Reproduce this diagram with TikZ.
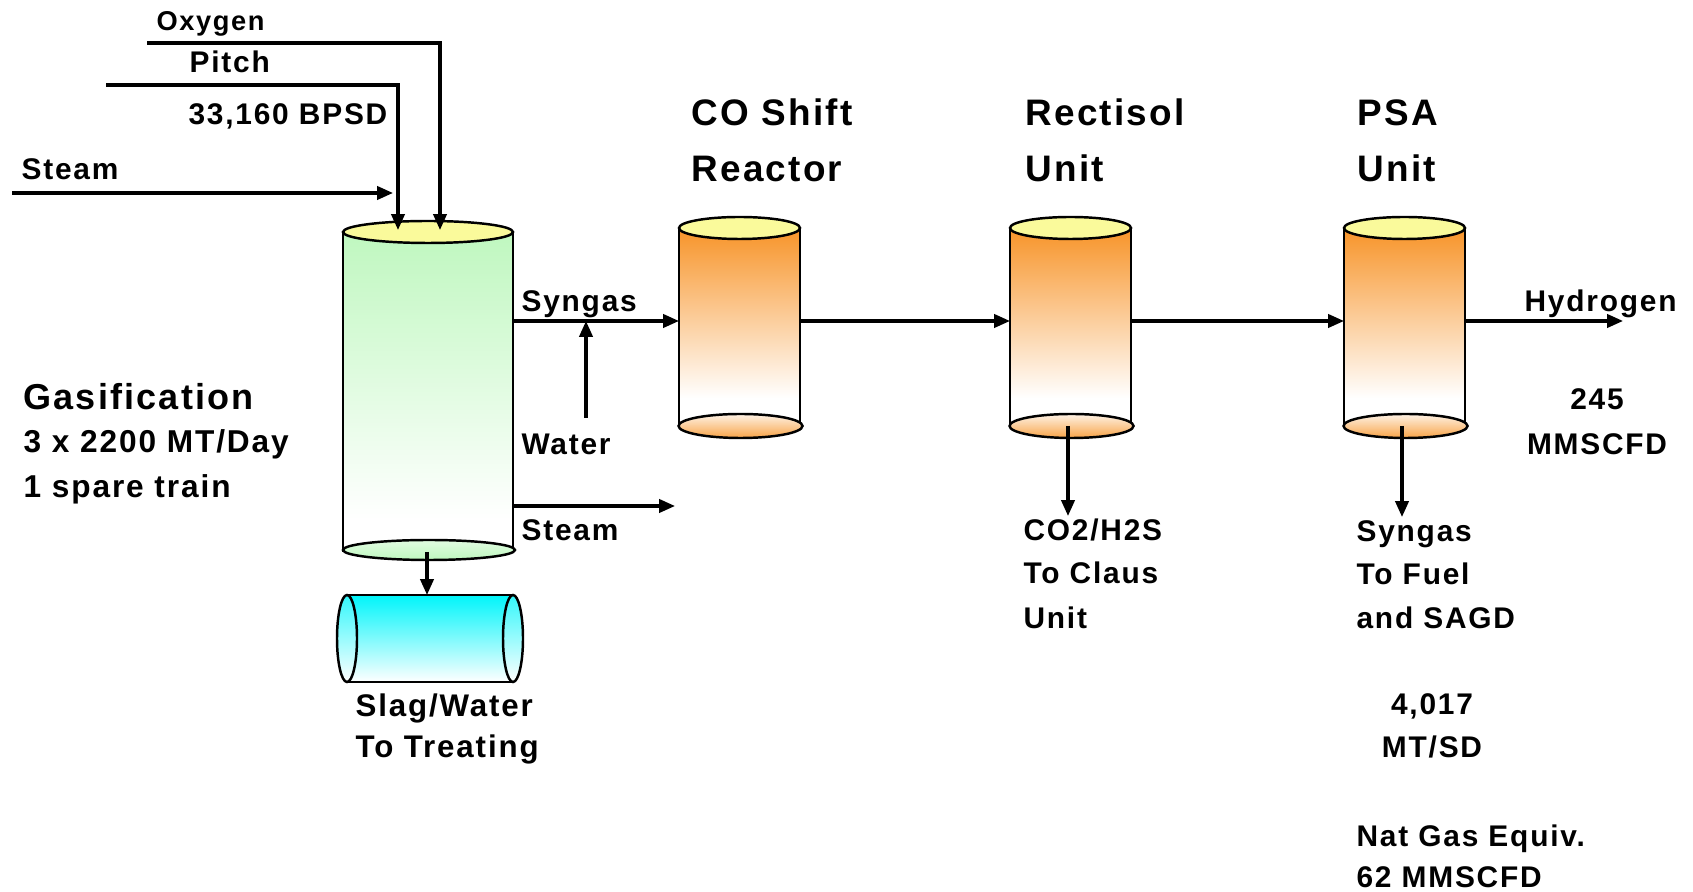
\documentclass[tikz,border=0pt]{standalone}
\usepackage{fontspec}
\setmainfont{Liberation Sans}[LetterSpace=6]
\usetikzlibrary{arrows.meta}
\usepackage{xcolor}
\definecolor{lidyellow}{RGB}{250,250,155}
\definecolor{gasgreen}{RGB}{190,248,190}
\definecolor{shiftorange}{RGB}{247,148,40}
\definecolor{slagcyan}{RGB}{0,245,250}
\pgfdeclareverticalshading{orangebody}{100bp}{rgb(0bp)=(1,1,1); rgb(32bp)=(1,1,1); rgb(75bp)=(0.97,0.58,0.16); rgb(100bp)=(0.97,0.58,0.16)}
\pgfdeclareverticalshading{greenbody}{100bp}{rgb(0bp)=(1,1,1); rgb(30bp)=(1,1,1); rgb(75bp)=(0.75,0.97,0.75); rgb(100bp)=(0.75,0.97,0.75)}

\begin{document}
\begin{tikzpicture}[x=0.02cm,y=0.02cm,>={Triangle[length=9pt,width=7.5pt]},line width=1.8pt,
  lbl/.style={font=\fontsize{17}{20}\selectfont\bfseries,inner sep=0pt,anchor=base west},
  num/.style={font=\fontsize{17}{20}\selectfont\bfseries,inner sep=0pt,anchor=base},
  ttl/.style={font=\fontsize{21}{25}\selectfont\bfseries,inner sep=0pt,anchor=base west},
  lid/.style={draw,fill=lidyellow,line width=1.4pt},
  hull/.style={line width=1.4pt}]
\useasboundingbox (0,0) rectangle (1693,892);

% gasifier
\shade[shading=greenbody] (343,340) rectangle (513,660);
\draw[hull] (343,340) -- (343,660) (513,340) -- (513,660);
\draw[lid] (428,660) ellipse (85 and 11);
\shadedraw[hull,top color=gasgreen!45,bottom color=gasgreen] (429,342) ellipse (86 and 10);

% slag drum
\shade[top color=slagcyan,bottom color=white] (347,210) rectangle (513,297);
\draw[hull] (347,297) -- (513,297) (347,210) -- (513,210);
\shadedraw[hull,top color=slagcyan!80,bottom color=white] (347,253.5) ellipse (10 and 43.5);
\shadedraw[hull,top color=slagcyan!80,bottom color=white] (513,253.5) ellipse (10 and 43.5);

% CO shift, Rectisol and PSA
\foreach \cx in {739.5,1070.5,1404.5}{
  \shade[shading=orangebody] (\cx-60.5,466) rectangle (\cx+60.5,664);
  \draw[hull] (\cx-60.5,466) -- (\cx-60.5,664) (\cx+60.5,466) -- (\cx+60.5,664);
  \draw[lid] (\cx,664) ellipse (60.5 and 11);
  \shadedraw[hull,top color=shiftorange!12,bottom color=shiftorange!85] (\cx+1,466) ellipse (62 and 12);
}

% connection points
\coordinate (oxy) at (147,849);
\coordinate (pitch) at (106,807);
\coordinate (stmin) at (12,699);
\coordinate (gasO) at (440,662);
\coordinate (gasP) at (398,662);
\coordinate (gasS) at (393,699);
\coordinate (gasE) at (513,571);
\coordinate (gasB) at (427,340);
\coordinate (stmout) at (513,386);
\coordinate (stmend) at (675,386);
\coordinate (wtr) at (586,474);
\coordinate (wtrmix) at (586,571);
\coordinate (slagT) at (427,297);
\coordinate (shiftW) at (679,571);
\coordinate (shiftE) at (800,571);
\coordinate (rectW) at (1010,571);
\coordinate (rectE) at (1131,571);
\coordinate (rectB) at (1068,466);
\coordinate (clausT) at (1068,376);
\coordinate (psaW) at (1344,571);
\coordinate (psaE) at (1465,571);
\coordinate (psaB) at (1402,466);
\coordinate (fuelT) at (1402,375);
\coordinate (htwo) at (1623,571);

% streams
\draw[->] (oxy) -| (gasO);
\draw[->] (pitch) -| (gasP);
\draw[->] (stmin) -- (gasS);
\draw[->] (gasE) -- (shiftW);
\draw[->] (wtr) -- (wtrmix);
\draw[->] (stmout) -- (stmend);
\draw[->] (gasB) -- (slagT);
\draw[->] (shiftE) -- (rectW);
\draw[->] (rectE) -- (psaW);
\draw[->] (psaE) -- (htwo);
\draw[->] (rectB) -- (clausT);
\draw[->] (psaB) -- (fuelT);

% labels
\node[lbl,font=\fontsize{15.5}{18}\selectfont\bfseries] (oxylbl) at (155,861) {Oxygen};
\node[lbl] (pitchlbl) at (188,819) {Pitch};
\node[lbl] (bpsd) at (187,767) {33,160 BPSD};
\node[lbl] (stminlbl) at (20,712) {Steam};
\node[lbl,font=\fontsize{20.5}{24}\selectfont\bfseries] (gaslbl) at (22,482) {Gasification};
\node[lbl,font=\fontsize{18}{21}\selectfont\bfseries] (gascap) at (22,439) {3 x 2200 MT/Day};
\node[lbl,font=\fontsize{18}{21}\selectfont\bfseries] (gasspare) at (22,394) {1 spare train};
\node[lbl] (synlbl) at (520,580) {Syngas};
\node[lbl] (wtrlbl) at (520,437) {Water};
\node[lbl] (stmoutlbl) at (520,351) {Steam};
\node[lbl,font=\fontsize{17.8}{21}\selectfont\bfseries] (slagA) at (354,175) {Slag/Water};
\node[lbl,font=\fontsize{17.8}{21}\selectfont\bfseries] (slagB) at (354,134) {To Treating};
\node[ttl] (shiftA) at (690,766) {CO Shift};
\node[ttl] (shiftB) at (690,710) {Reactor};
\node[ttl] (rectA) at (1024,766) {Rectisol};
\node[ttl] (rectB) at (1024,710) {Unit};
\node[ttl] (psaA) at (1356,766) {PSA};
\node[ttl] (psaB) at (1356,710) {Unit};
\node[lbl] (htwolbl) at (1523,580) {Hydrogen};
\node[num] (htwoA) at (1597,482) {245};
\node[num] (htwoB) at (1597,437) {MMSCFD};
\node[lbl] (clausA) at (1022,351) {CO2/H2S};
\node[lbl] (clausB) at (1022,308) {To Claus};
\node[lbl] (clausC) at (1022,263) {Unit};
\node[lbl] (fuelA) at (1355,350) {Syngas};
\node[lbl] (fuelB) at (1355,307) {To Fuel};
\node[lbl] (fuelC) at (1355,263) {and SAGD};
\node[num] (fuelD) at (1432,177) {4,017};
\node[num] (fuelE) at (1432,134) {MT/SD};
\node[lbl] (natgasA) at (1355,45) {Nat Gas Equiv.};
\node[lbl] (natgasB) at (1355,4) {62 MMSCFD};
\end{tikzpicture}
\end{document}
